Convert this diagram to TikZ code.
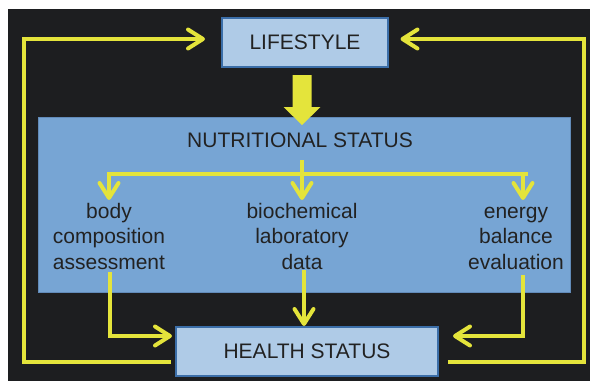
\documentclass[tikz,border=0pt]{standalone}
\usepackage{fontspec}
\setmainfont{Liberation Sans}
\usetikzlibrary{arrows.meta,positioning,calc}
\definecolor{bg}{HTML}{1D1E20}
\definecolor{lb}{HTML}{AFCBE7}
\definecolor{mb}{HTML}{77A5D4}
\definecolor{eb}{HTML}{3B6EA8}
\definecolor{yl}{HTML}{E4E43B}
\definecolor{tx}{HTML}{222222}

\begin{document}
\begin{tikzpicture}[x=1pt,y=-1pt,
 s/.style={draw=eb,line width=2pt,fill=lb,inner sep=0pt,text=tx,font=\fontsize{21}{25.5}\selectfont},
 t/.style={align=center,inner sep=0pt,text=tx,font=\fontsize{21}{25.5}\selectfont},
 w/.style={draw=yl,line width=4pt},
 a/.style={w,-{Straight Barb[length=15pt,width=19pt,round]}}]
 \useasboundingbox (0,0) rectangle (590,381);
 \fill[white] (0,0) rectangle (590,381);
 \fill[bg] (8,9) rectangle (590,381);
 \node[s,minimum width=166,minimum height=49] (life) at (305,42.5) {LIFESTYLE};
 \node[s,fill=mb,draw=eb!80,line width=1pt,minimum width=532,minimum height=175] (nutr) at (304.5,205) {};
 \node[t] (ntit) at (300,140.5) {NUTRITIONAL STATUS};
 \node[s,minimum width=262,minimum height=49] (health) at (307,351.5) {HEALTH STATUS};
 \node[t,anchor=north] (body) at (109,200) {\strut body\\composition\\assessment};
 \node[t,anchor=north] (bioc) at (302,200) {\strut biochemical\\laboratory\\data};
 \node[t,anchor=north] (ener) at (516,200) {\strut energy\\balance\\evaluation};
 \coordinate (fk) at (302,174);
 \coordinate (tl) at (24,39);
 \coordinate (tr) at (584,39);
 % lifestyle -> nutritional status
 \fill[yl] ($(life.south)+(-12.5,7)$) -- ++(19,0) -- ++(0,32) -- ++(9,0) -- ++(-18.5,18)
  -- ++(-18.5,-18) -- ++(9,0) -- cycle;
 % branches
 \draw[w] ([shift={(2,12)}]ntit.south) -- (fk);
 \draw[w] ([xshift=-2pt]body.north |- fk) -- ([xshift=12pt]ener.north |- fk);
 \draw[a] (body.north |- fk) -- (body.north);
 \draw[a] (fk) -- (bioc.north);
 \draw[a] ([xshift=7pt]ener.north |- fk) -- ([xshift=7pt]ener.north);
 % to health status
 \draw[a] ([shift={(1,3)}]body.south) |- ([shift={(-3,-15.5)}]health.west);
 \draw[a] ([shift={(2,1)}]bioc.south) -- ([xshift=2pt]bioc.south |- health.north);
 \draw[a] ([shift={(7,6)}]ener.south) |- ([shift={(14,-15.5)}]health.east);
 % feedback loops
 \draw[a,shorten >=16pt] ([shift={(-4,10.5)}]health.west) -| (tl) -- (tl -| life.west);
 \draw[a,shorten >=11.5pt] ([shift={(9,10.5)}]health.east) -| (tr) -- (tr -| life.east);
\end{tikzpicture}
\end{document}
